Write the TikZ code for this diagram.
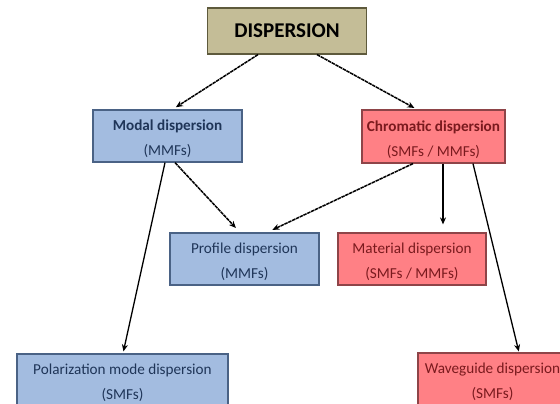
\documentclass[tikz,border=0pt]{standalone}
\usepackage{fontspec}
\setmainfont{Carlito}
\usetikzlibrary{arrows.meta,calc}
\definecolor{khaki}{HTML}{C4BD97}
\definecolor{khakiline}{HTML}{5E5A3C}
\definecolor{bluefill}{HTML}{A3BCE0}
\definecolor{blueline}{HTML}{4A6285}
\definecolor{bluetext}{HTML}{1F3558}
\definecolor{redfill}{HTML}{FF8085}
\definecolor{redline}{HTML}{8E4448}
\definecolor{redtext}{HTML}{7A1A1E}
\newcommand{\topstrut}{\rule{0pt}{17pt}}
\tikzset{
  box/.style={draw, line width=1.2pt, align=center, inner sep=0pt},
  bluebox/.style={box, fill=bluefill, draw=blueline, text=bluetext},
  redbox/.style={box, fill=redfill, draw=redline, text=redtext},
  txt/.style={font=\fontsize{15.2}{25}\selectfont},
  arr/.style={draw=black, line width=1.3pt, -{Stealth[length=7pt,width=6pt]}},
  darr/.style={arr, line width=1.5pt, dash pattern=on 3.5pt off 0.7pt}
}
\begin{document}
\begin{tikzpicture}[x=1pt,y=-1pt]
\useasboundingbox (0,0) rectangle (560,404);
\begin{scope}
\clip (0,0) rectangle (560,404);
\node[box, fill=khaki, draw=khakiline, minimum width=159pt, minimum height=46pt, font=\fontsize{21}{24}\selectfont\bfseries] (disp) at (287,31) {DISPERSION};
\node[bluebox, txt, minimum width=149pt, minimum height=52pt] (modal) at (167.5,136) {\topstrut\textbf{Modal dispersion}\\(MMFs)};
\node[redbox, txt, minimum width=143pt, minimum height=53pt] (chrom) at (433.5,136.5) {\topstrut\textbf{Chromatic dispersion}\\(SMFs / MMFs)};
\node[bluebox, txt, minimum width=149pt, minimum height=52pt] (prof) at (244.5,259) {\topstrut Profile dispersion\\(MMFs)};
\node[redbox, txt, minimum width=148pt, minimum height=52pt] (mat) at (412,259) {\topstrut Material dispersion\\(SMFs / MMFs)};
\node[bluebox, txt, minimum width=211pt, minimum height=52pt] (pol) at (122.5,380) {\topstrut Polarization mode dispersion\\(SMFs)};
\node[redbox, txt, minimum width=149pt, minimum height=52pt] (wave) at (492.5,379) {\topstrut Waveguide dispersion\\(SMFs)};
\end{scope}
\draw[darr, shorten >=4pt] ([xshift=-29pt]disp.south) -- ([xshift=5pt]modal.north);
\draw[darr, shorten >=3pt] ([xshift=30pt]disp.south) -- ([xshift=-16.5pt]chrom.north);
\draw[arr, shorten >=2pt] ([xshift=-2.5pt]modal.south) -- ([xshift=0.5pt]pol.north);
\draw[darr, shorten >=6pt] ([xshift=7.5pt]modal.south) -- ([xshift=-4.5pt]prof.north);
\draw[darr, shorten >=6pt] ([xshift=-20.5pt]chrom.south) -- ([xshift=22.5pt]prof.north);
\draw[arr, shorten >=8pt] ([xshift=9.5pt]chrom.south) -- ([xshift=31pt]mat.north);
\draw[arr, shorten >=1pt] ([xshift=39.5pt]chrom.south) -- ([xshift=26.5pt]wave.north);
\end{tikzpicture}
\end{document}
